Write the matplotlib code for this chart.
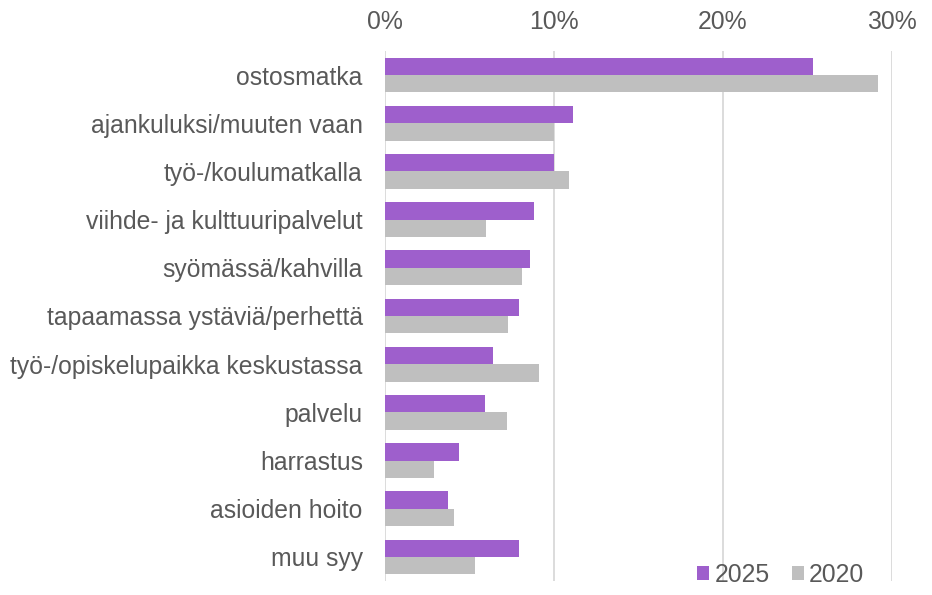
import matplotlib.pyplot as plt
import numpy as np

plt.rcParams['font.family'] = ['Liberation Sans', 'DejaVu Sans']

categories = ['ostosmatka', 'ajankuluksi/muuten vaan', 'työ-/koulumatkalla',
              'viihde- ja kulttuuripalvelut', 'syömässä/kahvilla',
              'tapaamassa ystäviä/perhettä', 'työ-/opiskelupaikka keskustassa',
              'palvelu', 'harrastus', 'asioiden hoito', 'muu syy']
values_2025 = [25.3, 11.1, 10.0, 8.8, 8.6, 7.9, 6.4, 5.9, 4.4, 3.7, 7.9]
values_2020 = [29.2, 10.0, 10.9, 6.0, 8.1, 7.3, 9.1, 7.2, 2.9, 4.1, 5.3]
ticks = [0, 10, 20, 30]

purple = '#9E5FCC'
grey = '#BFBFBF'
text_col = '#595959'

fig = plt.figure(figsize=(9.32, 5.95), dpi=100)
ax = fig.add_axes([385 / 932, 1 - 581 / 595, (892 - 385) / 932, (581 - 51) / 595])

y = np.arange(len(categories))
h = 0.36
ax.barh(y - h / 2, values_2025, height=h, color=purple, label='2025', zorder=3)
ax.barh(y + h / 2, values_2020, height=h, color=grey, label='2020', zorder=3)

ax.set_xlim(0, 30)
ax.set_ylim(len(categories) - 0.5, -0.5)
ax.set_xticks(ticks)
ax.set_xticklabels(['%d%%' % t for t in ticks])
ax.xaxis.tick_top()
ax.set_yticks(y)
ax.set_yticklabels(categories)
ax.tick_params(axis='both', length=0, labelsize=17.8, colors=text_col)
ax.tick_params(axis='x', pad=12)
ax.tick_params(axis='y', pad=16)
ax.grid(axis='x', color='#D9D9D9', linewidth=1.3, zorder=0)
for s in ax.spines.values():
    s.set_visible(False)

leg = ax.legend(loc='lower right', bbox_to_anchor=(0.965, -0.03), ncol=2, frameon=False,
                fontsize=17.8, handlelength=0.5, handleheight=0.5, handletextpad=0.2,
                columnspacing=0.9, borderaxespad=0)
for t in leg.get_texts():
    t.set_color(text_col)

fig.savefig('out.png', dpi=100)
